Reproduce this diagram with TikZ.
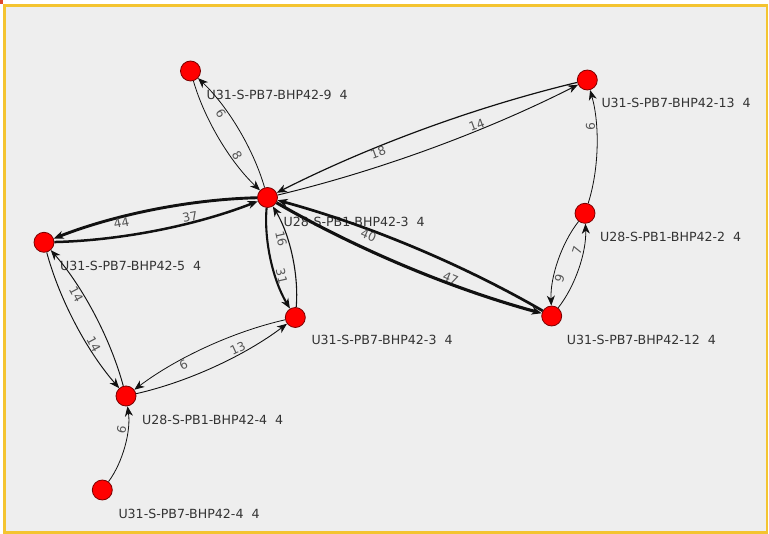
\documentclass[tikz,border=0pt]{standalone}
\usepackage{fontspec}
\setmainfont{DejaVu Sans}
\usetikzlibrary{calc,arrows.meta}
\definecolor{bgc}{HTML}{EEEEEE}
\definecolor{framec}{HTML}{F4C430}
\definecolor{nodered}{HTML}{FF0000}
\definecolor{nodeline}{HTML}{7A0000}
\definecolor{nlabc}{HTML}{333333}
\definecolor{elabc}{HTML}{555555}
\definecolor{edgec}{HTML}{111111}
\definecolor{markc}{HTML}{E04A2A}
\tikzset{
  vert/.style={circle,fill=nodered,draw=nodeline,line width=0.8pt,minimum size=20pt,inner sep=0pt},
  nlab/.style={anchor=base west,inner sep=0pt,text=nlabc,font=\fontsize{12.6}{14}\selectfont},
  elab/.style={inner sep=0pt,text=elabc,font=\fontsize{12.2}{14}\selectfont},
  edge/.style={draw=edgec,-{Stealth[length=10pt,width=8pt,inset=3pt]}},
}
\newcommand\dedge[4]{%
  \coordinate (q) at ($(#2)!0.5!(#3)!20pt!-90:(#3)$);
  \draw[edge,line width=#1] (#2) .. controls ($(#2)!0.6667!(q)$) and ($(#3)!0.6667!(q)$) .. (#3);
  \path ($(#2)!4pt!-90:(#3)$) -- node[elab,pos=0.65,sloped] {#4} ($(#3)!4pt!90:(#2)$);
}
\begin{document}
\begin{tikzpicture}[x=1pt,y=-1pt]
\useasboundingbox (0,0) rectangle (769,534);
\fill[white] (0,0) rectangle (769,534);
\fill[markc] (0,0) rectangle (3,4);
\filldraw[fill=bgc,draw=framec,line width=2.6pt] (4.2,5.8) rectangle (766.8,532.4);

\node[vert] (n9)  at (190.5,71) {};
\node[vert] (hub) at (267.5,197.5) {};
\node[vert] (n13) at (587.3,80) {};
\node[vert] (n2)  at (585,213.3) {};
\node[vert] (n5)  at (44,242.3) {};
\node[vert] (n3)  at (295.3,317.5) {};
\node[vert] (n12) at (551.7,316) {};
\node[vert] (n4)  at (126,396) {};
\node[vert] (n44) at (102.3,490) {};

\node[nlab] (l9)   at ($(n9)+(16,29)$)  {U31-S-PB7-BHP42-9\ \ 4};
\node[nlab] (lhub) at ($(hub)+(16,29)$) {U28-S-PB1-BHP42-3\ \ 4};
\node[nlab] (l13)  at ($(n13)+(14,27.5)$) {U31-S-PB7-BHP42-13\ \ 4};
\node[nlab] (l2)   at ($(n2)+(15,28.5)$)  {U28-S-PB1-BHP42-2\ \ 4};
\node[nlab] (l5)   at ($(n5)+(16,28.5)$)  {U31-S-PB7-BHP42-5\ \ 4};
\node[nlab] (l3)   at ($(n3)+(16,27.5)$)  {U31-S-PB7-BHP42-3\ \ 4};
\node[nlab] (l12)  at ($(n12)+(15,28.5)$) {U31-S-PB7-BHP42-12\ \ 4};
\node[nlab] (l4)   at ($(n4)+(16,28.5)$)  {U28-S-PB1-BHP42-4\ \ 4};
\node[nlab] (l44)  at ($(n44)+(16,28.5)$) {U31-S-PB7-BHP42-4\ \ 4};

\dedge{0.8pt}{n9}{hub}{8}
\dedge{0.8pt}{hub}{n9}{6}
\dedge{1.2pt}{n13}{hub}{18}
\dedge{0.95pt}{hub}{n13}{14}
\dedge{2.9pt}{hub}{n5}{44}
\dedge{2.5pt}{n5}{hub}{37}
\dedge{2.1pt}{hub}{n3}{31}
\dedge{1.1pt}{n3}{hub}{16}
\dedge{0.95pt}{n5}{n4}{14}
\dedge{0.95pt}{n4}{n5}{14}
\dedge{0.8pt}{n3}{n4}{6}
\dedge{0.9pt}{n4}{n3}{13}
\dedge{3.1pt}{hub}{n12}{47}
\dedge{2.7pt}{n12}{hub}{40}
\dedge{0.8pt}{n2}{n12}{9}
\dedge{0.8pt}{n12}{n2}{7}
\dedge{0.8pt}{n2}{n13}{6}
\dedge{0.8pt}{n44}{n4}{6}
\end{tikzpicture}
\end{document}
